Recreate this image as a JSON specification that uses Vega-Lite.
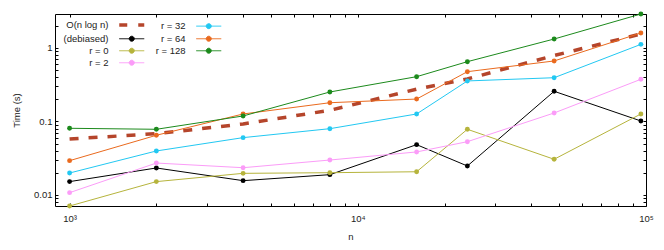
{
  "$schema": "https://vega.github.io/schema/vega-lite/v6.json",
  "width": 591,
  "height": 192,
  "autosize": "none",
  "padding": {"left": 55, "top": 14, "right": 18, "bottom": 44},
  "config": {
    "font": "Liberation Sans",
    "view": {"stroke": "#000", "strokeWidth": 1},
    "axis": {
      "domain": false, "grid": false,
      "labelFont": "Liberation Sans", "labelFontSize": 9.5, "labelColor": "#222",
      "titleFont": "Liberation Sans", "titleFontSize": 9.5, "titleFontWeight": "normal", "titleColor": "#222",
      "tickColor": "#000", "tickWidth": 1, "tickSize": -3, "ticks": true,
      "labelOverlap": false, "labelFlush": false
    }
  },
  "data": {
    "values": [
      {"series": "O(n log n)", "n": 1000, "t": 0.0578},
      {"series": "O(n log n)", "n": 2000, "t": 0.0682},
      {"series": "O(n log n)", "n": 4000, "t": 0.0925},
      {"series": "O(n log n)", "n": 8000, "t": 0.142},
      {"series": "O(n log n)", "n": 16000, "t": 0.275},
      {"series": "O(n log n)", "n": 24000, "t": 0.379},
      {"series": "O(n log n)", "n": 48000, "t": 0.79},
      {"series": "O(n log n)", "n": 96000, "t": 1.55},
      {"series": "(debiased)", "n": 1000, "t": 0.0152},
      {"series": "(debiased)", "n": 2000, "t": 0.0233},
      {"series": "(debiased)", "n": 4000, "t": 0.01566},
      {"series": "(debiased)", "n": 8000, "t": 0.0189},
      {"series": "(debiased)", "n": 16000, "t": 0.0484},
      {"series": "(debiased)", "n": 24000, "t": 0.0248},
      {"series": "(debiased)", "n": 48000, "t": 0.2575},
      {"series": "(debiased)", "n": 96000, "t": 0.1016},
      {"series": "r = 0", "n": 1000, "t": 0.00708},
      {"series": "r = 0", "n": 2000, "t": 0.0152},
      {"series": "r = 0", "n": 4000, "t": 0.0197},
      {"series": "r = 0", "n": 8000, "t": 0.0201},
      {"series": "r = 0", "n": 16000, "t": 0.0207},
      {"series": "r = 0", "n": 24000, "t": 0.0783},
      {"series": "r = 0", "n": 48000, "t": 0.0306},
      {"series": "r = 0", "n": 96000, "t": 0.1265},
      {"series": "r = 2", "n": 1000, "t": 0.01075},
      {"series": "r = 2", "n": 2000, "t": 0.0272},
      {"series": "r = 2", "n": 4000, "t": 0.0235},
      {"series": "r = 2", "n": 8000, "t": 0.0299},
      {"series": "r = 2", "n": 16000, "t": 0.0385},
      {"series": "r = 2", "n": 24000, "t": 0.0531},
      {"series": "r = 2", "n": 48000, "t": 0.1305},
      {"series": "r = 2", "n": 96000, "t": 0.375},
      {"series": "r = 32", "n": 1000, "t": 0.0199},
      {"series": "r = 32", "n": 2000, "t": 0.0397},
      {"series": "r = 32", "n": 4000, "t": 0.0603},
      {"series": "r = 32", "n": 8000, "t": 0.0798},
      {"series": "r = 32", "n": 16000, "t": 0.1265},
      {"series": "r = 32", "n": 24000, "t": 0.356},
      {"series": "r = 32", "n": 48000, "t": 0.394},
      {"series": "r = 32", "n": 96000, "t": 1.12},
      {"series": "r = 64", "n": 1000, "t": 0.0293},
      {"series": "r = 64", "n": 2000, "t": 0.0649},
      {"series": "r = 64", "n": 4000, "t": 0.1265},
      {"series": "r = 64", "n": 8000, "t": 0.18},
      {"series": "r = 64", "n": 16000, "t": 0.202},
      {"series": "r = 64", "n": 24000, "t": 0.476},
      {"series": "r = 64", "n": 48000, "t": 0.666},
      {"series": "r = 64", "n": 96000, "t": 1.6},
      {"series": "r = 128", "n": 1000, "t": 0.0808},
      {"series": "r = 128", "n": 2000, "t": 0.0783},
      {"series": "r = 128", "n": 4000, "t": 0.1188},
      {"series": "r = 128", "n": 8000, "t": 0.252},
      {"series": "r = 128", "n": 16000, "t": 0.407},
      {"series": "r = 128", "n": 24000, "t": 0.651},
      {"series": "r = 128", "n": 48000, "t": 1.325},
      {"series": "r = 128", "n": 96000, "t": 2.9}
    ]
  },
  "layer": [
    {
      "transform": [{"filter": "datum.series === 'O(n log n)'"}],
      "mark": {"type": "line", "strokeWidth": 3.5, "strokeDash": [9, 10]},
      "encoding": {
        "x": {"field": "n", "type": "quantitative", "scale": {"type": "log", "domain": [890, 100000], "nice": false}, "axis": null},
        "y": {"field": "t", "type": "quantitative", "scale": {"type": "log", "domain": [0.00708, 2.9], "nice": false}, "axis": null},
        "color": {
          "field": "series", "type": "nominal",
          "scale": {
            "domain": ["O(n log n)", "(debiased)", "r = 0", "r = 2", "r = 32", "r = 64", "r = 128"],
            "range": ["#b5452b", "#000000", "#b6b43c", "#fb9cf8", "#22c8f2", "#ea6a1e", "#1c8a1c"]
          },
          "legend": {
            "orient": "none", "legendX": 72, "legendY": 6, "columns": 2, "title": null,
            "symbolSize": 625, "symbolType": "M-1,0L1,0",
            "labelAlign": "right", "labelOffset": -28,
            "labelFont": "Liberation Sans", "labelFontSize": 9.5, "labelColor": "#222",
            "rowPadding": 1, "columnPadding": 3, "padding": 0,
            "encode": {
              "symbols": {
                "update": {
                  "shape": {"signal": "datum.value === 'O(n log n)' ? 'M-1,0L1,0' : 'M-1,0L1,0M0.2,0A0.2,0.2,0,1,1,-0.2,0A0.2,0.2,0,1,1,0.2,0Z'"},
                  "strokeWidth": {"signal": "datum.value === 'O(n log n)' ? 3.5 : 1"},
                  "strokeDash": {"signal": "datum.value === 'O(n log n)' ? [8, 11] : [1, 0]"},
                  "fill": {"scale": "color", "field": "value"},
                  "stroke": {"scale": "color", "field": "value"},
                  "opacity": {"value": 1},
                  "fillOpacity": {"value": 1},
                  "strokeOpacity": {"value": 1}
                }
              }
            }
          }
        }
      }
    },
    {
      "transform": [{"filter": "datum.series !== 'O(n log n)'"}],
      "mark": {"type": "line", "strokeWidth": 1},
      "encoding": {
        "x": {
          "field": "n", "type": "quantitative",
          "scale": {"type": "log", "domain": [890, 100000], "nice": false},
          "axis": {
            "orient": "bottom", "title": "n", "titlePadding": 9,
            "values": [1000, 2000, 3000, 4000, 5000, 6000, 7000, 8000, 9000, 10000, 20000, 30000, 40000, 50000, 60000, 70000, 80000, 90000, 100000],
            "labelExpr": "datum.value == 1000 ? '10³' : datum.value == 10000 ? '10⁴' : datum.value == 100000 ? '10⁵' : ''",
            "labelPadding": 10,
            "encode": {"ticks": {"update": {"y2": {"signal": "abs(log(datum.value)/LN10 - round(log(datum.value)/LN10)) < 0.001 ? -6 : -3"}}}}
          }
        },
        "y": {
          "field": "t", "type": "quantitative",
          "scale": {"type": "log", "domain": [0.00708, 2.9], "nice": false},
          "axis": {
            "orient": "left", "title": "Time (s)", "titlePadding": 12,
            "values": [0.008, 0.009, 0.01, 0.02, 0.03, 0.04, 0.05, 0.06, 0.07, 0.08, 0.09, 0.1, 0.2, 0.3, 0.4, 0.5, 0.6, 0.7, 0.8, 0.9, 1, 2],
            "labelExpr": "datum.value == 1 ? '1' : datum.value == 0.1 ? '0.1' : datum.value == 0.01 ? '0.01' : ''",
            "labelPadding": 6,
            "encode": {"ticks": {"update": {"x2": {"signal": "abs(log(datum.value)/LN10 - round(log(datum.value)/LN10)) < 0.001 ? 6 : 3"}}}}
          }
        },
        "color": {"field": "series", "type": "nominal"}
      }
    },
    {
      "transform": [{"filter": "datum.series !== 'O(n log n)'"}],
      "mark": {"type": "point", "filled": true, "size": 24, "opacity": 1},
      "encoding": {
        "x": {
          "field": "n", "type": "quantitative",
          "scale": {"type": "log", "domain": [890, 100000], "nice": false},
          "axis": {
            "orient": "top", "title": null, "labels": false,
            "values": [1000, 2000, 3000, 4000, 5000, 6000, 7000, 8000, 9000, 10000, 20000, 30000, 40000, 50000, 60000, 70000, 80000, 90000, 100000],
            "encode": {"ticks": {"update": {"y2": {"signal": "abs(log(datum.value)/LN10 - round(log(datum.value)/LN10)) < 0.001 ? 6 : 3"}}}}
          }
        },
        "y": {
          "field": "t", "type": "quantitative",
          "scale": {"type": "log", "domain": [0.00708, 2.9], "nice": false},
          "axis": {
            "orient": "right", "title": null, "labels": false,
            "values": [0.008, 0.009, 0.01, 0.02, 0.03, 0.04, 0.05, 0.06, 0.07, 0.08, 0.09, 0.1, 0.2, 0.3, 0.4, 0.5, 0.6, 0.7, 0.8, 0.9, 1, 2],
            "encode": {"ticks": {"update": {"x2": {"signal": "abs(log(datum.value)/LN10 - round(log(datum.value)/LN10)) < 0.001 ? -6 : -3"}}}}
          }
        },
        "color": {"field": "series", "type": "nominal"}
      }
    }
  ],
  "resolve": {"axis": {"x": "independent", "y": "independent"}}
}
